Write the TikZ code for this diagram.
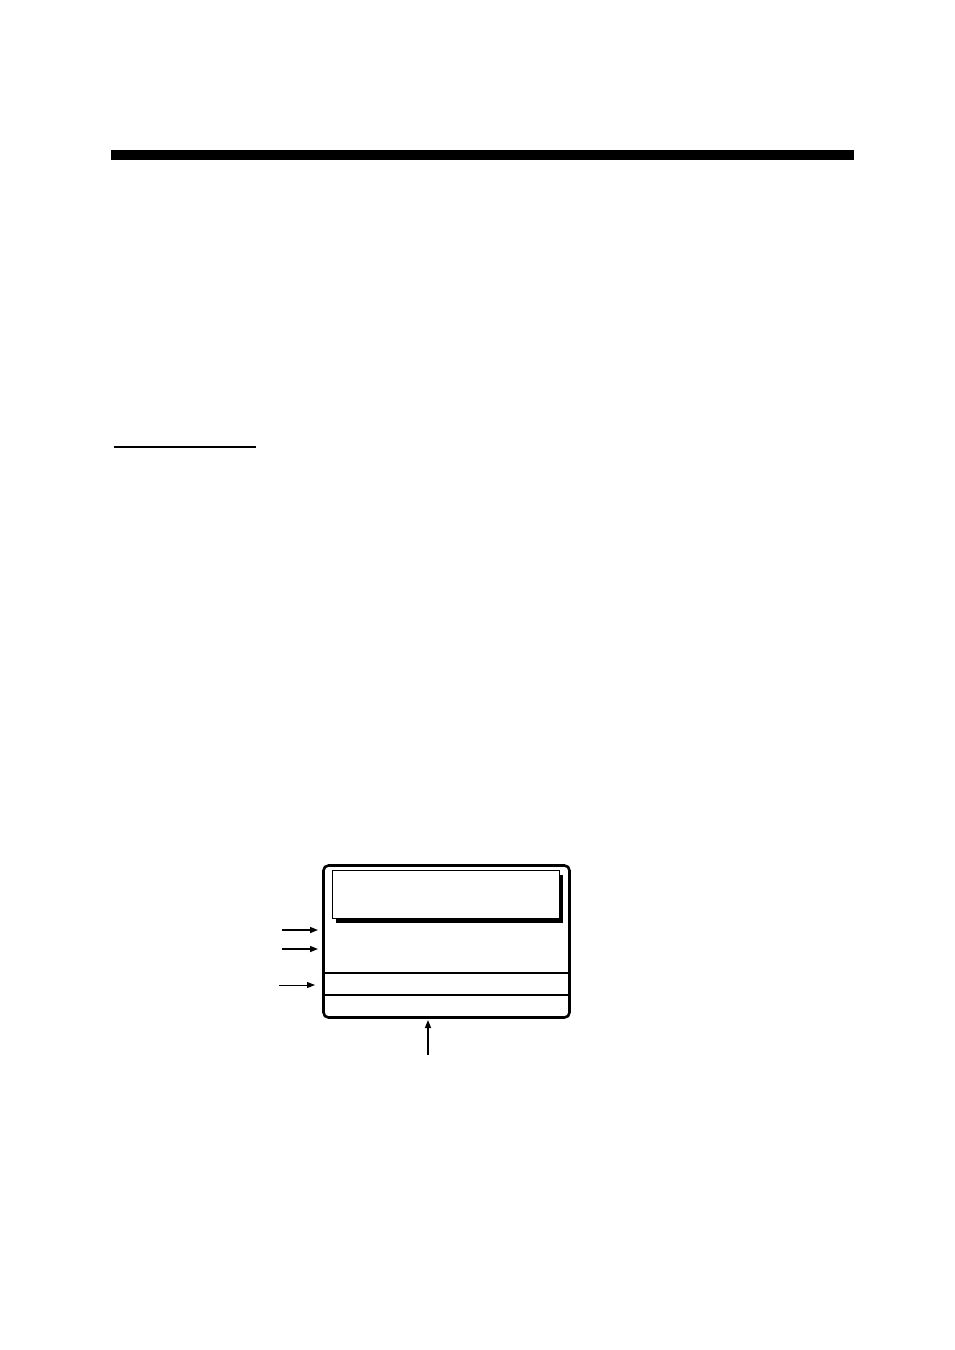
\documentclass[tikz,border=0pt]{standalone}
\usetikzlibrary{arrows.meta}
\begin{document}
\begin{tikzpicture}[x=1pt,y=-1pt,
  pointer/.style={line width=1.4pt,-{Triangle[length=8pt,width=6pt]}},
  thinpointer/.style={line width=1pt,-{Triangle[length=8pt,width=6pt]}}]
\useasboundingbox (0,0) rectangle (954,1350);
% heading bar
\fill (111,150) rectangle (854,160);
% underline
\draw[line width=2.2pt] (114,447) -- (256,447);
% screen
\node[draw,line width=2.6pt,rounded corners=5pt,minimum width=246pt,minimum height=152pt,inner sep=0pt,outer sep=0pt,anchor=north west] (screen) at (323.5,865.5) {};
% title window with shadow
\fill (336,918) rectangle (562,922.5);
\fill (558,875) rectangle (562.5,922.5);
\node[draw,fill=white,line width=1pt,minimum width=227pt,minimum height=48pt,inner sep=0pt,outer sep=0pt,anchor=north west] (title) at (332,870) {};
% divider lines
\coordinate (l1) at (323.5,973);
\coordinate (r1) at (569.5,973);
\coordinate (l2) at (323.5,995);
\coordinate (r2) at (569.5,995);
\draw[line width=1.4pt] (l1) -- (r1);
\draw[line width=1.4pt] (l2) -- (r2);
% arrows
\coordinate (a1s) at (282,930); \coordinate (a1e) at (318,930);
\coordinate (a2s) at (282,949); \coordinate (a2e) at (318,949);
\coordinate (a3s) at (279,985); \coordinate (a3e) at (315,985);
\coordinate (a4s) at (428,1055); \coordinate (a4e) at (428,1020);
\draw[pointer] (a1s) -- (a1e);
\draw[pointer] (a2s) -- (a2e);
\draw[thinpointer] (a3s) -- (a3e);
\draw[pointer] (a4s) -- (a4e);
\end{tikzpicture}
\end{document}
